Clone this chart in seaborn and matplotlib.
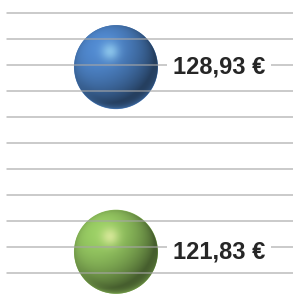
import numpy as np
import pandas as pd
import matplotlib
matplotlib.use("Agg")
import matplotlib.pyplot as plt
import seaborn as sns
from matplotlib.offsetbox import OffsetImage, AnnotationBbox

# Datos del grafico
series = ["A", "B"]
precios = [128.93, 121.83]
posicion_x = [1, 1]
colores = ["#4a7ebf", "#8dbd5c"]
brillos = ["#a6e0f8", "#f2f4b0"]
ticks_y = list(range(121, 132))

df = pd.DataFrame({"serie": series, "x": posicion_x, "precio": precios})


def hex_rgb(c):
    c = c.lstrip("#")
    return np.array([int(c[i:i + 2], 16) for i in (0, 2, 4)]) / 255.0


# Genera una esfera sombreada tipo burbuja 3D
def esfera(color, brillo, n=168):
    base = hex_rgb(color)
    luz = hex_rgb(brillo)
    t = (np.arange(n) + 0.5) / n * 2 - 1
    u, v = np.meshgrid(t, t)
    r = np.sqrt(u ** 2 + v ** 2)
    z = np.sqrt(np.clip(1 - r ** 2, 0, 1))
    L = np.array([-0.4, 0.5, 0.77])
    L = L / np.linalg.norm(L)
    d = np.clip(u * L[0] + (-v) * L[1] + z * L[2], 0, 1)
    shade = 0.5 + 0.6 * d
    img = base[None, None, :] * shade[..., None]
    spec = np.exp(-((u + 0.14) ** 2 + (v + 0.37) ** 2) / (2 * 0.15 ** 2))
    img = img * (1 - 0.65 * spec[..., None]) + luz * 0.65 * spec[..., None]
    rim = np.clip((r - 0.8) / 0.2, 0, 1) ** 2 * np.clip(v, 0, 1)
    img = img * (1 - 0.6 * rim[..., None]) + base * 1.05 * 0.6 * rim[..., None]
    img = np.clip(img, 0, 1)
    alpha = np.clip((1 - r) * n / 2, 0, 1)
    return np.dstack([img, alpha])


sns.set_theme(style="white")
plt.rcParams["font.family"] = ["Liberation Sans", "DejaVu Sans"]

fig = plt.figure(figsize=(2.93, 2.96), dpi=100)
ax = fig.add_axes([7 / 293, 22.7 / 296, 286 / 293, 260 / 296])

sns.scatterplot(data=df, x="x", y="precio", hue="serie", palette=colores,
                s=3658, edgecolor="none", legend=False, ax=ax,
                clip_on=False, zorder=1)

for xi, p, c, b in zip(posicion_x, precios, colores, brillos):
    im = OffsetImage(esfera(c, b), zoom=84 / (168 * 100 / 72))
    ab = AnnotationBbox(im, (xi, p), frameon=False, zorder=2,
                        annotation_clip=False)
    ax.add_artist(ab)
    etiqueta = f"{p:.2f}".replace(".", ",") + " €"
    ax.annotate(etiqueta, (xi, p), xytext=(41, 0), textcoords="offset points",
                ha="left", va="center", fontsize=17, fontweight="bold",
                color="#262626", zorder=5, annotation_clip=False,
                bbox=dict(boxstyle="square,pad=0.25", fc="white", ec="none"))

ax.set_xlim(0, 1 / 0.381)
ax.set_ylim(ticks_y[0], ticks_y[-1])
ax.set_yticks(ticks_y)
ax.set_xticks([])
ax.set_axisbelow(False)
ax.yaxis.grid(True, color="#a6a6a6", alpha=0.75, linewidth=1.1, clip_on=False)
ax.tick_params(left=False, labelleft=False)
ax.set_xlabel("")
ax.set_ylabel("")
for s in ax.spines.values():
    s.set_visible(False)

fig.savefig("out.png", dpi=100)
